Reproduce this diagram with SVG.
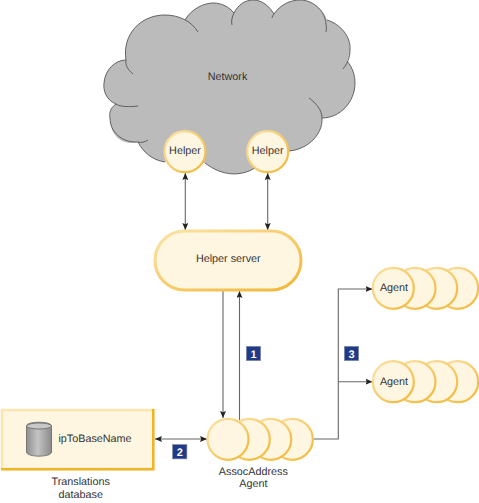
<svg xmlns="http://www.w3.org/2000/svg" width="479" height="503" viewBox="0 0 479 503">
<style>
text{font-family:"Liberation Sans",Arial,sans-serif;font-size:10.8px;fill:#333;text-anchor:middle;text-rendering:geometricPrecision}
.c{fill:#fef6e0;stroke:url(#g);stroke-width:2.2}
.o{fill:none;stroke:#555;stroke-width:.9}
.l{fill:none;stroke:#666;stroke-width:1.1}
.b{fill:#1f3a86;stroke:#8a93a8;stroke-width:.6}
.n{fill:#fff;font-weight:bold;font-size:11px}
</style>
<defs>
<linearGradient id="g" x1="0" y1="0" x2="1" y2="1"><stop offset="0" stop-color="#fbe3a8"/><stop offset="1" stop-color="#f1b635"/></linearGradient>
<linearGradient id="cy" x1="0" y1="0" x2="1" y2="0"><stop offset="0" stop-color="#8f8f8f"/><stop offset=".45" stop-color="#c4c4c4"/><stop offset="1" stop-color="#8a8a8a"/></linearGradient>
<marker id="a" viewBox="0 0 7 6" refX="7" refY="3" markerWidth="7" markerHeight="6" markerUnits="userSpaceOnUse" orient="auto-start-reverse"><path d="M0 0L7 3L0 6L1.2 3Z" fill="#222"/></marker>
<circle id="k" r="20.5" class="c"/>
</defs>
<g id="network">
<path fill="#bbb" d="M165 162C152 160 143 152 138 142C125 146 110 138 110 118C109 112 112 107 116 104C106 100 103 90 104 83C105 70 115 60 126 60C122 35 140 15 165 15C173 15 180 17 185 20C192 8 205 3 213 3C222 3 229 7 234 13C238 5 245 0 253 0C262 0 269 6 274 14C280 5 290 0 300 0C314 0 325 12 327 20C340 24 351 36 350 50C350 54 349 58 347 61C353 68 355 76 355 83C355 102 340 118 322 118C323 136 305 151 287 151L255 168C240 177 222 176 205 163Z"/>
<path class="o" d="M165 162C152 160 143 152 138 142C141 143 145 142 148 140M116 104C106 100 103 90 104 83C105 70 115 60 126 60C125 65 128 70 133 74M116 104C110 108 109 114 110 118C110 132 122 143 138 142M116 104C120 107 130 107 138 106M126 60C122 35 140 15 165 15C180 15 192 22 198 32M185 20C192 8 205 3 213 3C222 3 229 7 234 13C232 17 231 21 232 25M234 13C238 5 245 0 253 0C262 0 269 6 274 14C273 15 272 17 272 18M274 14C280 5 290 0 300 0C314 0 326 12 326 25C327 28 326 30 326 32M327 20C340 24 351 36 350 50C350 58 347 64 343 69M347 61C353 68 355 76 355 83C355 102 340 118 322 118C322 110 316 103 309 98M322 118C323 136 305 151 287 151M255 168C240 177 222 176 205 163"/>
<text x="227.500" y="80">Network</text>
</g>
<g id="connectors">
<path class="l" d="M185.300 173V230" marker-start="url(#a)" marker-end="url(#a)"/>
<path class="l" d="M267.700 173V230" marker-start="url(#a)" marker-end="url(#a)"/>
<path class="l" d="M223 291V418" marker-end="url(#a)"/>
<path class="l" d="M239.500 420V291" marker-end="url(#a)"/>
<path class="l" d="M155 439H207" marker-start="url(#a)" marker-end="url(#a)"/>
<path class="l" d="M313 439H338.300V289H372.500" marker-end="url(#a)"/>
<path class="l" d="M338.300 381.700H372.500" marker-end="url(#a)"/>
</g>
<g id="helper1"><circle cx="185" cy="151.700" r="20.500" class="c"/><text x="185" y="154">Helper</text></g>
<g id="helper2"><circle cx="267.700" cy="151.700" r="20.500" class="c"/><text x="267.700" y="154">Helper</text></g>
<g id="helper-server"><rect x="155" y="231" width="146" height="59" rx="29.500" class="c" style="stroke-width:3"/><text x="228.300" y="262">Helper server</text></g>
<g id="agents1">
<use href="#k" x="457.700" y="288.300"/><use href="#k" x="436.700" y="288.300"/><use href="#k" x="415" y="288.300"/><use href="#k" x="393.300" y="288.300"/>
<text x="394" y="291">Agent</text></g>
<g id="agents2">
<use href="#k" x="457.700" y="381.700"/><use href="#k" x="436.700" y="381.700"/><use href="#k" x="415" y="381.700"/><use href="#k" x="393.300" y="381.700"/>
<text x="394" y="385">Agent</text></g>
<g id="assoc">
<use href="#k" x="292.300" y="439.300"/><use href="#k" x="270.700" y="439.300"/><use href="#k" x="249.300" y="439.300"/><use href="#k" x="228" y="439.300"/>
<text x="253.300" y="474.500">AssocAddress</text><text x="253.300" y="487">Agent</text></g>
<g id="database">
<rect x="2" y="410" width="151.500" height="59" fill="#fef6e0" stroke="#fce5ae" stroke-width="2.500"/>
<path d="M153.200 409V469.200H1" fill="none" stroke="#f0b429" stroke-width="2.500"/>
<path d="M26.500 426C26.500 421 51.500 421 51.500 426V452C51.500 457.500 26.500 457.500 26.500 452Z" fill="url(#cy)" stroke="#777"/>
<ellipse cx="39" cy="426" rx="12.500" ry="3" fill="#c8c8c8" stroke="#777"/>
<text x="95" y="442">ipToBaseName</text>
<text x="80.700" y="485">Translations</text><text x="80.700" y="498">database</text>
</g>
<g id="badge1"><rect x="246.300" y="346.300" width="14.400" height="14.400" class="b"/><text x="253.500" y="357.500" class="n">1</text></g>
<g id="badge2"><rect x="172.500" y="444.500" width="14.400" height="14.400" class="b"/><text x="179.700" y="455.700" class="n">2</text></g>
<g id="badge3"><rect x="344.300" y="346.300" width="14.400" height="14.400" class="b"/><text x="351.500" y="357.500" class="n">3</text></g>
</svg>
